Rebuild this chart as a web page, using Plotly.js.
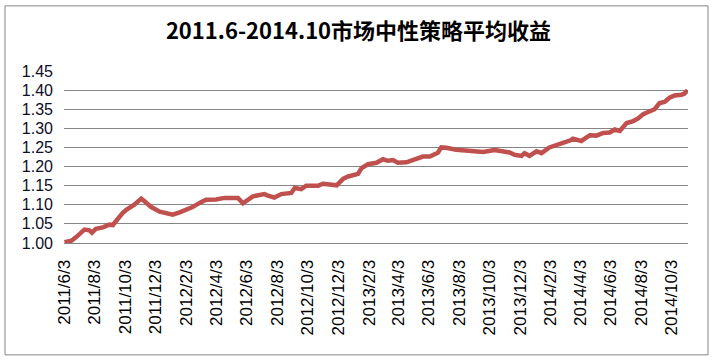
<!DOCTYPE html>
<html>
<head>
<meta charset="utf-8">
<script src="https://cdn.plot.ly/plotly-3.0.1.min.js"></script>
<style>
html,body{margin:0;padding:0;background:#fff;}
#chart{width:717px;height:363px;}
</style>
</head>
<body>
<div id="chart"></div>
<script>
const dates = [
"2011-06-03","2011-06-17","2011-06-27","2011-07-13","2011-07-23","2011-07-28","2011-08-05","2011-08-19",
"2011-09-01","2011-09-08","2011-09-28","2011-10-05","2011-10-21","2011-11-04","2011-11-10","2011-11-24",
"2011-12-11","2011-12-24","2012-01-06","2012-01-20","2012-02-02","2012-02-15","2012-02-29","2012-03-13",
"2012-04-02","2012-04-19","2012-05-16","2012-05-26","2012-06-15","2012-06-28","2012-07-08","2012-07-15",
"2012-07-28","2012-08-11","2012-08-31","2012-09-07","2012-09-20","2012-09-30","2012-10-24","2012-11-03",
"2012-11-30","2012-12-13","2012-12-23","2013-01-12","2013-01-19","2013-02-01","2013-02-18","2013-03-03",
"2013-03-13","2013-03-23","2013-04-02","2013-04-19","2013-05-09","2013-05-22","2013-06-05","2013-06-15",
"2013-06-21","2013-06-28","2013-07-08","2013-07-28","2013-08-24","2013-09-20","2013-10-13","2013-10-30",
"2013-11-12","2013-11-22","2013-12-06","2013-12-12","2013-12-22","2014-01-05","2014-01-15","2014-01-31",
"2014-02-17","2014-02-27","2014-03-13","2014-03-19","2014-04-05","2014-04-22","2014-05-05","2014-05-19",
"2014-06-01","2014-06-11","2014-06-21","2014-07-05","2014-07-18","2014-07-28","2014-08-07","2014-08-20",
"2014-08-30","2014-09-09","2014-09-19","2014-09-29","2014-10-09","2014-10-23","2014-10-29","2014-11-04"
];
const returns = [
1.002,1.006,1.016,1.035,1.033,1.027,1.037,1.041,
1.048,1.047,1.079,1.087,1.100,1.116,1.110,1.094,
1.082,1.079,1.074,1.080,1.087,1.094,1.105,1.113,
1.114,1.118,1.118,1.104,1.122,1.124,1.128,1.124,
1.119,1.128,1.131,1.144,1.141,1.150,1.150,1.155,
1.151,1.168,1.174,1.181,1.196,1.206,1.210,1.219,
1.215,1.217,1.210,1.211,1.219,1.226,1.226,1.233,
1.236,1.250,1.249,1.244,1.241,1.238,1.243,1.239,
1.237,1.231,1.228,1.235,1.228,1.240,1.235,1.250,
1.256,1.262,1.268,1.273,1.267,1.282,1.281,1.288,
1.289,1.297,1.293,1.314,1.319,1.326,1.337,1.345,
1.350,1.366,1.369,1.380,1.386,1.388,1.391,1.400
];
const tickDates = [
"2011-06-03","2011-08-03","2011-10-03","2011-12-03","2012-02-03","2012-04-03","2012-06-03",
"2012-08-03","2012-10-03","2012-12-03","2013-02-03","2013-04-03","2013-06-03","2013-08-03",
"2013-10-03","2013-12-03","2014-02-03","2014-04-03","2014-06-03","2014-08-03","2014-10-03"
];
const tickLabels = [
"2011/6/3","2011/8/3","2011/10/3","2011/12/3","2012/2/3","2012/4/3","2012/6/3",
"2012/8/3","2012/10/3","2012/12/3","2013/2/3","2013/4/3","2013/6/3","2013/8/3",
"2013/10/3","2013/12/3","2014/2/3","2014/4/3","2014/6/3","2014/8/3","2014/10/3"
];
const yTicks = [1.00,1.05,1.10,1.15,1.20,1.25,1.30,1.35,1.40,1.45];
const titleText = "2011.6-2014.10市场中性策略平均收益";

const W = 717, H = 363;
const m = {l:64, r:29, t:70.5, b:119.5};
const pw = W - m.l - m.r, ph = H - m.t - m.b;
function px2x(px){ return (px - m.l) / pw; }
function py2y(py){ return (H - m.b - py) / ph; }

const trace = {
  x: dates, y: returns, type: 'scatter', mode: 'lines',
  line: {color: '#C0504D', width: 4.5}, hoverinfo: 'skip'
};

const layout = {
  width: W, height: H,
  margin: m,
  paper_bgcolor: '#fff', plot_bgcolor: '#fff',
  showlegend: false,
  title: {
    text: '<b>' + titleText + '</b>',
    font: {family: '"Noto Sans CJK SC", sans-serif', size: 22, color: '#000'},
    x: 0.5, xanchor: 'center', xref: 'container',
    y: 1 - 31/H, yanchor: 'middle', yref: 'container'
  },
  xaxis: {
    type: 'date',
    range: ['2011-06-02', '2014-11-05'],
    tickvals: tickDates, ticktext: tickLabels,
    tickangle: -90,
    tickfont: {family: '"Liberation Sans", Arial, sans-serif', size: 17, color: '#000'},
    showgrid: false, zeroline: false,
    showline: true, linecolor: '#868686', linewidth: 1,
    ticks: '', ticklabelstandoff: 9
  },
  yaxis: {
    range: [1.0, 1.45],
    tickvals: yTicks, ticktext: yTicks.map(v => v.toFixed(2)),
    tickfont: {family: '"Liberation Sans", Arial, sans-serif', size: 16, color: '#0d0d26'},
    showgrid: true, gridcolor: '#868686', gridwidth: 1,
    zeroline: false, showline: false, ticks: '', ticklabelstandoff: 10
  },
  shapes: [{
    type: 'rect', xref: 'paper', yref: 'paper', layer: 'above',
    x0: px2x(5), x1: px2x(708), y0: py2y(356), y1: py2y(5),
    line: {color: '#868686', width: 1}, fillcolor: 'rgba(0,0,0,0)'
  }]
};

Plotly.newPlot('chart', [trace], layout, {staticPlot: true, displayModeBar: false});
</script>
</body>
</html>
